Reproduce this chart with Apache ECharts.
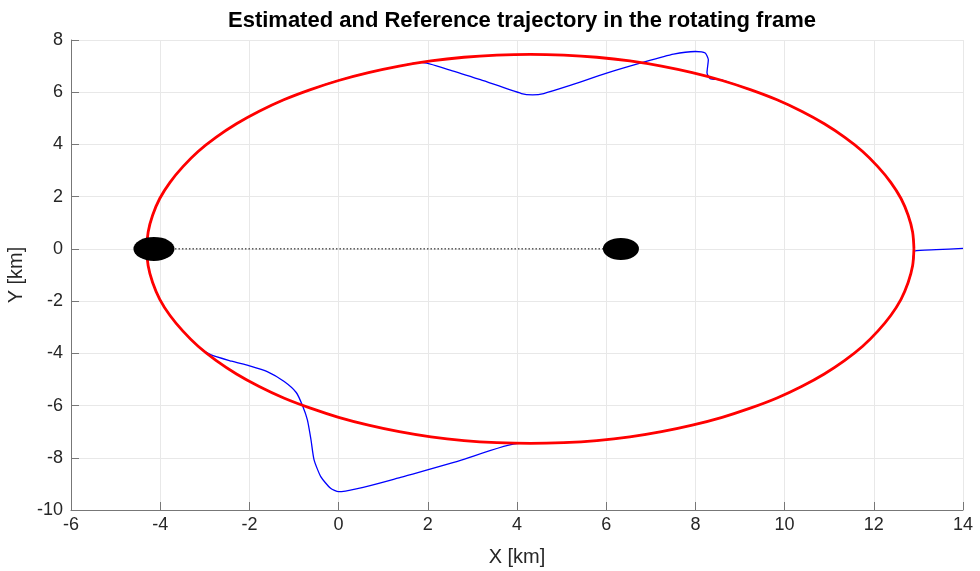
<!DOCTYPE html>
<html>
<head>
<meta charset="utf-8">
<script src="https://cdn.jsdelivr.net/npm/echarts@6/dist/echarts.min.js"></script>
<style>html,body{margin:0;padding:0;background:#fff;}#c{width:980px;height:571px;}</style>
</head>
<body>
<div id="c"></div>
<script>
// Reference trajectory (red)
var refX = [12.90,12.87,12.77,12.61,12.38,12.09,11.75,11.35,10.89,10.38,9.83,9.23,8.60,7.93,7.24,6.53,5.79,5.05,4.30,3.55,2.81,2.07,1.36,0.67,0.00,-0.63,-1.23,-1.78,-2.29,-2.75,-3.15,-3.49,-3.78,-4.01,-4.17,-4.27,-4.30,-4.27,-4.17,-4.01,-3.78,-3.49,-3.15,-2.75,-2.29,-1.78,-1.23,-0.63,0.00,0.67,1.36,2.07,2.81,3.55,4.30,5.05,5.79,6.53,7.24,7.93,8.60,9.23,9.83,10.38,10.89,11.35,11.75,12.09,12.38,12.61,12.77,12.87,12.90];
var refY = [0.00,0.65,1.29,1.93,2.55,3.15,3.73,4.27,4.79,5.27,5.71,6.10,6.45,6.75,7.00,7.20,7.34,7.42,7.45,7.42,7.34,7.20,7.00,6.75,6.45,6.10,5.71,5.27,4.79,4.27,3.73,3.15,2.55,1.93,1.29,0.65,0.00,-0.65,-1.29,-1.93,-2.55,-3.15,-3.73,-4.27,-4.79,-5.27,-5.71,-6.10,-6.45,-6.75,-7.00,-7.20,-7.34,-7.42,-7.45,-7.42,-7.34,-7.20,-7.00,-6.75,-6.45,-6.10,-5.71,-5.27,-4.79,-4.27,-3.73,-3.15,-2.55,-1.93,-1.29,-0.65,0.00];
// Estimated trajectory (blue)
var estX = [14.00,13.40,12.92,12.88,12.90,12.90,12.87,12.77,12.61,12.38,12.09,11.75,11.35,10.89,10.38,9.83,9.23,8.80,8.56,8.33,8.26,8.29,8.22,8.00,7.51,6.84,6.01,5.12,4.60,4.35,4.10,3.18,2.50,1.85,1.36,0.67,0.00,-0.63,-1.23,-1.78,-2.29,-2.75,-3.15,-3.49,-3.78,-4.01,-4.17,-4.27,-4.30,-4.27,-4.17,-4.01,-3.78,-3.49,-3.15,-2.87,-2.40,-2.00,-1.60,-1.22,-0.95,-0.81,-0.70,-0.62,-0.55,-0.40,-0.18,0.00,1.39,2.70,4.05,4.30,5.05,5.79,6.53,7.24,7.93,8.60,9.23,9.83,10.38,10.89,11.35,11.75,12.09,12.38,12.61,12.77,12.87,12.90];
var estY = [0.02,-0.03,-0.08,-0.45,-0.20,0.00,0.65,1.29,1.93,2.55,3.15,3.73,4.27,4.79,5.27,5.71,6.10,6.35,6.48,6.52,6.75,7.24,7.50,7.56,7.46,7.15,6.73,6.22,5.95,5.90,5.95,6.48,6.85,7.14,7.00,6.75,6.45,6.10,5.71,5.27,4.79,4.27,3.73,3.15,2.55,1.93,1.29,0.65,0.00,-0.65,-1.29,-1.93,-2.55,-3.15,-3.73,-4.05,-4.30,-4.48,-4.70,-5.08,-5.50,-6.00,-6.55,-7.30,-8.08,-8.72,-9.17,-9.30,-8.75,-8.12,-7.45,-7.45,-7.42,-7.34,-7.20,-7.00,-6.75,-6.45,-6.10,-5.71,-5.27,-4.79,-4.27,-3.73,-3.15,-2.55,-1.93,-1.29,-0.65,-0.30];
// Bodies (black ellipses) and connecting dotted line
var bodyX = [-4.14, 6.33];
var bodyY = [0, 0];
var xTicks = [-6,-4,-2,0,2,4,6,8,10,12,14];
var yTicks = [-10,-8,-6,-4,-2,0,2,4,6,8];

function pairs(xs, ys){ return xs.map(function(x,i){ return [x, ys[i]]; }); }

var chart = echarts.init(document.getElementById('c'));
var font = 'Liberation Sans, Arial, sans-serif';
chart.setOption({
  animation: false,
  backgroundColor: '#ffffff',
  title: {
    text: 'Estimated and Reference trajectory in the rotating frame',
    left: 517, top: 5, textAlign: 'center',
    textStyle: {fontFamily: font, fontSize: 22, fontWeight: 'bold', color: '#000'}
  },
  grid: {left: 71, right: 17, top: 40, bottom: 61, containLabel: false, outerBoundsMode: 'none'},
  xAxis: {
    type: 'value', min: xTicks[0], max: xTicks[xTicks.length-1], interval: 2,
    name: 'X [km]', nameLocation: 'middle', nameGap: 37,
    nameTextStyle: {fontFamily: font, fontSize: 20, color: '#262626'},
    axisLine: {show: true, onZero: false, lineStyle: {color: '#777', width: 1}},
    axisTick: {show: true, inside: true, length: 8, lineStyle: {color: '#777'}},
    axisLabel: {fontFamily: font, fontSize: 18, color: '#262626', margin: 6},
    splitLine: {show: true, lineStyle: {color: '#e8e8e8', width: 1}}
  },
  yAxis: {
    type: 'value', min: yTicks[0], max: yTicks[yTicks.length-1], interval: 2,
    name: 'Y [km]', nameLocation: 'middle', nameGap: 40, nameRotate: 90,
    nameTextStyle: {fontFamily: font, fontSize: 20, color: '#262626'},
    axisLine: {show: true, onZero: false, lineStyle: {color: '#777', width: 1}},
    axisTick: {show: true, inside: true, length: 8, lineStyle: {color: '#777'}},
    axisLabel: {fontFamily: font, fontSize: 18, color: '#262626', margin: 8},
    splitLine: {show: true, lineStyle: {color: '#e8e8e8', width: 1}}
  },
  series: [
    {type: 'line', data: pairs(bodyX, bodyY), symbol: 'none', z: 2,
     lineStyle: {color: '#000', width: 1, type: [1.5, 2]}},
    {type: 'line', data: pairs(estX, estY), symbol: 'none', smooth: 0.2, z: 3,
     lineStyle: {color: '#0000ff', width: 1.3}},
    {type: 'line', data: pairs(refX, refY), symbol: 'none', smooth: 0.3, z: 4,
     lineStyle: {color: '#ff0000', width: 2.8}},
    {type: 'scatter', data: [[bodyX[0], bodyY[0]]], symbol: 'circle', symbolSize: [41, 24], z: 5,
     itemStyle: {color: '#000', opacity: 1}},
    {type: 'scatter', data: [[bodyX[1], bodyY[1]]], symbol: 'circle', symbolSize: [36, 22], z: 5,
     itemStyle: {color: '#000', opacity: 1}}
  ]
});
</script>
</body>
</html>
